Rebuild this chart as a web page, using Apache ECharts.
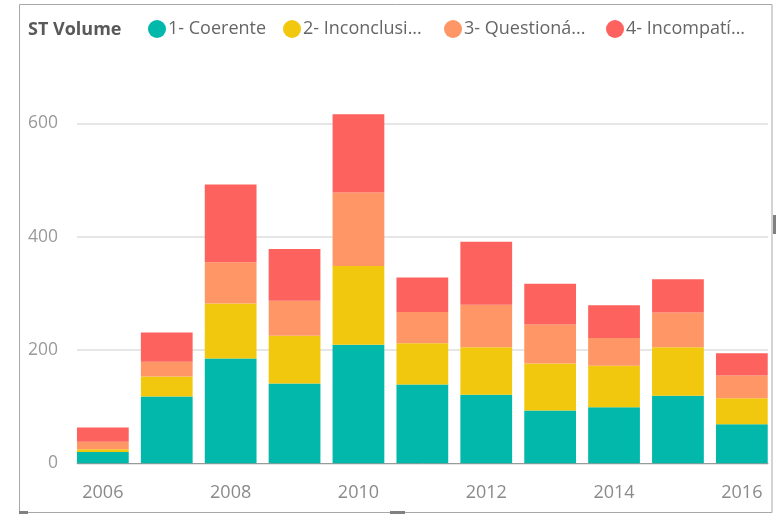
<!DOCTYPE html>
<html>
<head>
<meta charset="utf-8">
<script src="https://cdn.jsdelivr.net/npm/echarts@6/dist/echarts.min.js"></script>
<style>
html,body{margin:0;padding:0;background:#fff;}
#chart{width:777px;height:515px;}
</style>
</head>
<body>
<div id="chart"></div>
<script>
const years = ['2006','2007','2008','2009','2010','2011','2012','2013','2014','2015','2016'];
const seriesNames = ['1- Coerente','2- Inconclusi...','3- Questioná...','4- Incompatí...'];
const coerente     = [20, 118, 185, 141, 209, 139, 121, 93, 99, 119, 69];
const inconclusivo = [5, 35, 97, 84, 139, 73, 84, 83, 73, 86, 46];
const questionavel = [13, 26, 73, 62, 130, 55, 75, 69, 49, 61, 40];
const incompativel = [25, 52, 137, 91, 138, 61, 111, 72, 58, 59, 39];
const yTicks = [0, 200, 400, 600];
const colors = ['#01B8AA', '#F2C80F', '#FE9666', '#FD625E'];

const font = '"Open Sans", "Noto Sans", sans-serif';
const values = [coerente, inconclusivo, questionavel, incompativel];
const legendLefts = [148, 283, 444, 606];

const chart = echarts.init(document.getElementById('chart'), null, {renderer: 'canvas'});
chart.setOption({
  animation: false,
  color: colors,
  title: {
    text: 'ST Volume', left: 23, top: 16,
    textStyle: {fontFamily: font, fontSize: 18, fontWeight: 'bold', color: '#595959'}
  },
  legend: seriesNames.map((n, i) => ({
    data: [n], left: legendLefts[i], top: 20, icon: 'circle',
    itemWidth: 18, itemHeight: 18, itemGap: 0, padding: 0,
    textStyle: {fontFamily: font, fontSize: 18, color: '#666666', padding: [0, 0, 0, -3]}
  })),
  grid: [
    {left: 77, right: 9, top: 123.3, bottom: 51.7},
    {left: 70.9, right: 3.2, top: 123.3, bottom: 51.7}
  ],
  xAxis: [
    {gridIndex: 0, type: 'category', data: years, boundaryGap: false,
     axisLine: {lineStyle: {color: '#9a9a9a', width: 1}}, axisTick: {show: false}, axisLabel: {show: false}},
    {gridIndex: 1, type: 'category', data: years,
     axisLine: {show: false}, axisTick: {show: false},
     axisLabel: {interval: 1, margin: 21, fontFamily: font, fontSize: 18, color: '#8a8a8a'}}
  ],
  yAxis: [
    {gridIndex: 0, type: 'value', min: yTicks[0], max: yTicks[yTicks.length - 1], interval: 200,
     axisLine: {show: false}, axisTick: {show: false},
     axisLabel: {margin: 19, fontFamily: font, fontSize: 17.5, color: '#9a9a9a'},
     splitLine: {lineStyle: {color: '#e6e6e6', width: 2}}},
    {gridIndex: 1, type: 'value', min: yTicks[0], max: yTicks[yTicks.length - 1], interval: 200, show: false,
     splitLine: {show: false}}
  ],
  series: seriesNames.map((n, i) => ({
    name: n, type: 'bar', stack: 'total', xAxisIndex: 1, yAxisIndex: 1,
    data: values[i], barCategoryGap: '19%', clip: false,
    itemStyle: {color: colors[i]}
  })),
  graphic: [
    {type: 'rect', shape: {x: 19.5, y: 4.5, width: 752.5, height: 508}, style: {fill: 'none', stroke: '#a8a8a8', lineWidth: 1}, silent: true},
    {type: 'rect', shape: {x: 773, y: 215, width: 3, height: 19}, style: {fill: '#808080'}, silent: true},
    {type: 'rect', shape: {x: 390, y: 511, width: 15, height: 3}, style: {fill: '#808080'}, silent: true},
    {type: 'rect', shape: {x: 19, y: 511, width: 9, height: 3}, style: {fill: '#808080'}, silent: true}
  ]
});
</script>
</body>
</html>
